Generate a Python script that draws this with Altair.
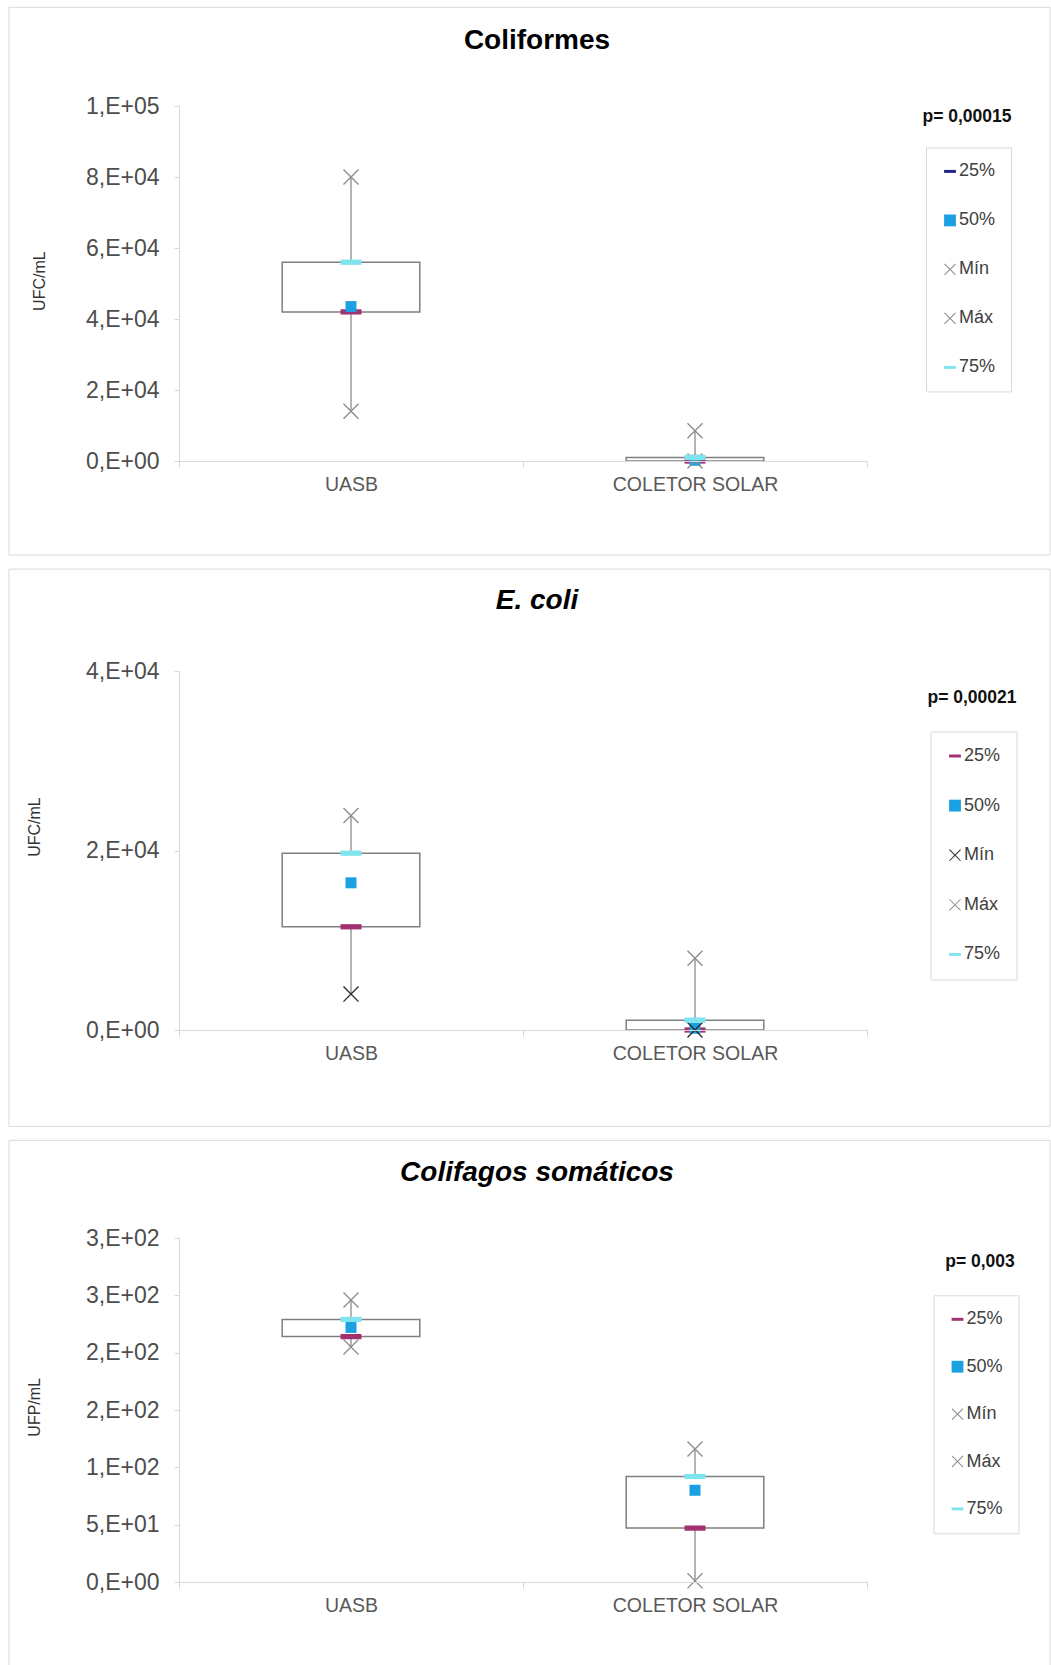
import altair as alt
import pandas as pd

# Categories and legend series
grupos = ["UASB", "COLETOR SOLAR"]
series = ["25%", "50%", "Mín", "Máx", "75%"]

# Coliformes (UFC/mL): one value per group
colif_q25 = [42000, 0]
colif_q50 = [43500, 200]
colif_min = [14000, 0]
colif_max = [80000, 8500]
colif_q75 = [56000, 1000]

# E. coli (UFC/mL)
ecoli_q25 = [11500, 0]
ecoli_q50 = [16400, 200]
ecoli_min = [4000, 0]
ecoli_max = [23900, 8000]
ecoli_q75 = [19700, 1100]

# Colifagos somáticos (UFP/mL)
fago_q25 = [214, 47]
fago_q50 = [222, 80]
fago_min = [205, 1]
fago_max = [246, 116]
fago_q75 = [229, 92]

titulos = ["Coliformes", "E. coli", "Colifagos somáticos"]
estilos_titulo = ["normal", "italic", "italic"]
unidades = ["UFC/mL", "UFC/mL", "UFP/mL"]
p_valores = ["p= 0,00015", "p= 0,00021", "p= 0,003"]
y_max = [100000, 40000, 300]
y_ticks = [
    [0, 20000, 40000, 60000, 80000, 100000],
    [0, 20000, 40000],
    [0, 50, 100, 150, 200, 250, 300],
]

FONT = "Liberation Sans"
MAGENTA = "#a3316f"
NAVY = "#23238e"
BLUE = "#1ba1e2"
CYAN = "#80e4ee"
GRAY_X = "#8c8c8c"
DARK_X = "#262626"
LIGHT = "#d9d9d9"

# filled symbol outlines (unit square -1..1)
DASH = "M-1,-0.25L1,-0.25L1,0.25L-1,0.25Z"
CROSS = ("M-1,-0.88L-0.88,-1L1,0.88L0.88,1Z"
         "M0.88,-1L1,-0.88L-0.88,1L-1,0.88Z")

# marker area per series in the plot
SIZE_EXPR = ("datum.serie == '50%' ? 121 : "
             "(datum.serie == 'Mín' || datum.serie == 'Máx') ? 256 : 441")

# Excel-like "1,E+05" tick labels
_e = "floor(log(datum.value)/LN10 + 1e-9)"
LABEL_EXPR = (
    f"datum.value == 0 ? '0,E+00' : round(datum.value / pow(10, {_e})) + ',E+' + "
    f"({_e} < 10 ? '0' : '') + {_e}"
)

W = 688
layouts = [
    dict(h=355.0, top=-98.7, bottom=449.1, title_y=-57.1, ytitle_y=174.6, ytitle_x=-140,
         leg_x=747, leg_y=41.4, row_pad=31, leg_pad=15, p_x=788, p_y=16.0,
         legend_colors=[NAVY, BLUE, GRAY_X, GRAY_X, CYAN]),
    dict(h=359.0, top=-101.9, bottom=455.4, title_y=-61.9, ytitle_y=155.5, ytitle_x=-145,
         leg_x=751.5, leg_y=60.5, row_pad=31.6, leg_pad=15.5, p_x=793, p_y=32.3,
         legend_colors=[MAGENTA, BLUE, DARK_X, GRAY_X, CYAN]),
    dict(h=344.0, top=-97.7, bottom=428.0, title_y=-56.7, ytitle_y=168.8, ytitle_x=-145,
         leg_x=754.5, leg_y=57.3, row_pad=29.4, leg_pad=15, p_x=801, p_y=29.0,
         legend_colors=[MAGENTA, BLUE, GRAY_X, GRAY_X, CYAN]),
]


def painel(i, q25, q50, vmin, vmax, q75):
    lay = layouts[i]
    caixa = pd.DataFrame({"grupo": grupos, "q25": q25, "q75": q75, "vmin": vmin, "vmax": vmax})
    linhas = []
    for g, a, b, c, d, e in zip(grupos, q25, q50, vmin, vmax, q75):
        for s, v in zip(series, [a, b, c, d, e]):
            linhas.append({"grupo": g, "serie": s, "valor": v})
    pontos = pd.DataFrame(linhas)

    x_axis = alt.Axis(
        labelAngle=0, tickBand="extent", domainColor=LIGHT, tickColor=LIGHT,
        tickSize=6, labelPadding=8, labelFontSize=19.5, labelColor="#595959",
        labelFont=FONT, grid=False, zindex=1,
    )
    x_enc = alt.X("grupo:N", sort=grupos, title=None,
                  scale=alt.Scale(domain=grupos, paddingInner=0, paddingOuter=0), axis=x_axis)

    y_axis = alt.Axis(
        values=y_ticks[i], labelExpr=LABEL_EXPR, domainColor=LIGHT, tickColor=LIGHT,
        tickSize=5, labelPadding=15, labelFontSize=23, labelColor="#4d4d4d", labelFont=FONT,
        labelFlush=False, grid=False, titleFontSize=16, titleFontWeight="normal",
        titleColor="#333333", titleFont=FONT, titleBaseline="middle",
        titleX=lay["ytitle_x"], titleY=lay["ytitle_y"], zindex=1,
    )
    y_scale = alt.Scale(domain=[0, y_max[i]], nice=False, zero=True)

    def y(field):
        return alt.Y(field, title=unidades[i], scale=y_scale, axis=y_axis)

    # light border around the whole panel
    moldura = alt.Chart(pd.DataFrame({"k": [0]})).mark_rect(
        filled=False, color=LIGHT, strokeWidth=1
    ).encode(
        x=alt.value(-170), x2=alt.value(871), y=alt.value(lay["top"]), y2=alt.value(lay["bottom"])
    )

    titulo = alt.Chart(pd.DataFrame({"t": [titulos[i]]})).mark_text(
        font=FONT, fontSize=28, fontWeight="bold", fontStyle=estilos_titulo[i],
        align="center", baseline="alphabetic", color="#000000"
    ).encode(text="t:N", x=alt.value(358), y=alt.value(lay["title_y"]))

    bigode = alt.Chart(caixa).mark_rule(color=GRAY_X, strokeWidth=1.3).encode(
        x=x_enc, y=y("vmin:Q"), y2="vmax:Q"
    )

    corpo = alt.Chart(caixa).mark_bar(
        fill="white", stroke="#7f7f7f", strokeWidth=1.5, width=alt.RelativeBandSize(0.4)
    ).encode(x=x_enc, y=y("q25:Q"), y2="q75:Q")

    # 25% markers inside the plot are always magenta
    q1 = alt.Chart(pontos).transform_filter(alt.datum.serie == "25%").mark_point(
        shape=DASH, size=441, filled=True, fill=MAGENTA, strokeWidth=0, opacity=1
    ).encode(x=x_enc, y=y("valor:Q"))

    legenda = alt.Legend(
        orient="none", legendX=lay["leg_x"], legendY=lay["leg_y"],
        symbolSize=140, symbolOpacity=1,
        labelFontSize=18, labelFont=FONT, labelColor="#404040", labelOffset=0,
        rowPadding=lay["row_pad"], padding=lay["leg_pad"], strokeColor=LIGHT, fillColor="white",
    )
    marcadores = alt.Chart(pontos).transform_filter(
        alt.datum.serie != "25%"
    ).transform_calculate(
        tam=SIZE_EXPR
    ).mark_point(filled=True, strokeWidth=0, opacity=1).encode(
        x=x_enc,
        y=y("valor:Q"),
        color=alt.Color("serie:N", title=None,
                        scale=alt.Scale(domain=series, range=lay["legend_colors"]),
                        legend=legenda),
        shape=alt.Shape("serie:N", title=None,
                        scale=alt.Scale(domain=series, range=[DASH, "square", CROSS, CROSS, DASH]),
                        legend=legenda),
        size=alt.Size("tam:Q", scale=None),
    )

    ptexto = alt.Chart(pd.DataFrame({"p": [p_valores[i]]})).mark_text(
        font=FONT, fontSize=17.5, fontWeight="bold", align="center",
        baseline="alphabetic", color="#111111"
    ).encode(text="p:N", x=alt.value(lay["p_x"]), y=alt.value(lay["p_y"]))

    return alt.layer(moldura, titulo, bigode, corpo, q1, marcadores, ptexto).properties(
        width=W,
        height=lay["h"],
    )


chart = alt.vconcat(
    painel(0, colif_q25, colif_q50, colif_min, colif_max, colif_q75),
    painel(1, ecoli_q25, ecoli_q50, ecoli_min, ecoli_max, ecoli_q75),
    painel(2, fago_q25, fago_q50, fago_min, fago_max, fago_q75),
    spacing=12,
).resolve_scale(color="independent", shape="independent").properties(
    padding={"left": 8, "top": 6, "right": 0, "bottom": 0},
    background="white",
).configure(font=FONT).configure_view(stroke=None)

chart.save("out.html", embed_options={"renderer": "svg", "actions": False})
